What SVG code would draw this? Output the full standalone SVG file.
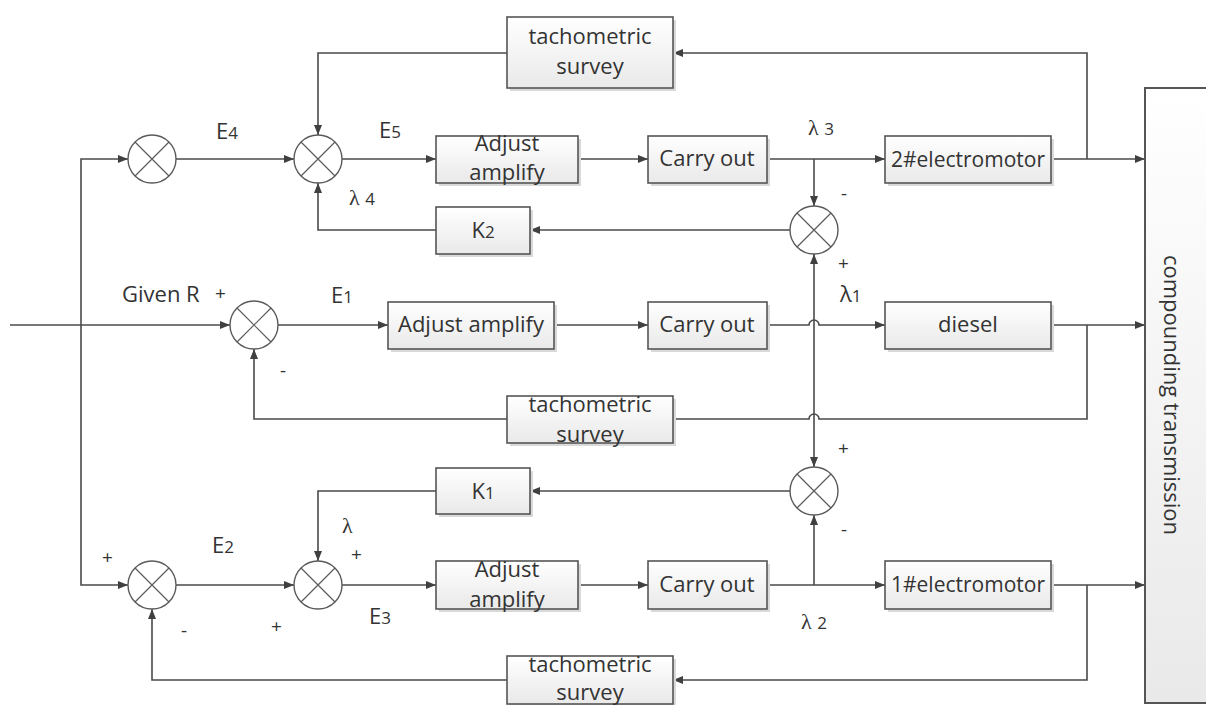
<svg xmlns="http://www.w3.org/2000/svg" width="1206" height="705" viewBox="0 0 1206 705">
<style>
.ln{fill:none;stroke:#4a4a4a;stroke-width:1.6}
.bx{fill:url(#g);stroke:#555;stroke-width:1.6}
.sh{fill:#d9d9d9}
.sm{fill:#fff;stroke:#5a5a5a;stroke-width:1.4}
.sx{stroke:#5a5a5a;stroke-width:1.2}
.t{font-family:"Open Sans","Liberation Sans",sans-serif;font-size:22px;fill:#333;text-anchor:middle}
.l{font-family:"Open Sans","Liberation Sans",sans-serif;font-size:22px;fill:#333}
.p{font-family:"Open Sans","Liberation Sans",sans-serif;font-size:19px;fill:#333}
.g{font-family:"Liberation Serif",serif;font-size:22px;fill:#333}
.s{font-size:17px}
</style>
<defs>
<linearGradient id="g" x1="0" y1="0" x2="0" y2="1"><stop offset="0" stop-color="#ffffff"/><stop offset="1" stop-color="#e9e9e9"/></linearGradient>
<marker id="a" viewBox="0 0 10 10" refX="10" refY="5" markerWidth="10" markerHeight="10" markerUnits="userSpaceOnUse" orient="auto-start-reverse"><path d="M0,1 L10,5 L0,9 Z" fill="#404040"/></marker>
<g id="x"><circle r="24" class="sm"/><path class="sx" d="M-17,-17 L17,17 M17,-17 L-17,17"/></g>
</defs>
<rect width="1206" height="705" fill="#fff"/>

<g id="connectors">
<path class="ln" marker-end="url(#a)" d="M10,325 H230"/>
<path class="ln" marker-end="url(#a)" d="M81,325 V159 H128"/>
<path class="ln" marker-end="url(#a)" d="M81,325 V585 H128"/>
<path class="ln" marker-end="url(#a)" d="M176,159 H294"/>
<path class="ln" marker-end="url(#a)" d="M342,159 H436"/>
<path class="ln" marker-end="url(#a)" d="M578,159 H648"/>
<path class="ln" marker-end="url(#a)" d="M767,159 H885"/>
<path class="ln" marker-end="url(#a)" d="M814,159 V206"/>
<path class="ln" marker-end="url(#a)" d="M1051,159 H1145"/>
<path class="ln" marker-end="url(#a)" d="M1087,159 V53 H673"/>
<path class="ln" marker-end="url(#a)" d="M507,53 H318 V135"/>
<path class="ln" marker-end="url(#a)" d="M790,230 H530"/>
<path class="ln" marker-end="url(#a)" d="M436,230 H318 V183"/>
<path class="ln" marker-start="url(#a)" marker-end="url(#a)" d="M814,254 V467"/>
<path class="ln" marker-end="url(#a)" d="M278,325 H388"/>
<path class="ln" marker-end="url(#a)" d="M554,325 H648"/>
<path class="ln" marker-end="url(#a)" d="M767,325 H809 A5,5 0 0 1 819,325 H885"/>
<path class="ln" marker-end="url(#a)" d="M1051,325 H1145"/>
<path class="ln" d="M1087,325 V419 H819 A5,5 0 0 0 809,419 H673"/>
<path class="ln" marker-end="url(#a)" d="M507,419 H254 V349"/>
<path class="ln" marker-end="url(#a)" d="M790,491 H530"/>
<path class="ln" marker-end="url(#a)" d="M436,491 H318 V561"/>
<path class="ln" marker-end="url(#a)" d="M176,585 H294"/>
<path class="ln" marker-end="url(#a)" d="M342,585 H436"/>
<path class="ln" marker-end="url(#a)" d="M578,585 H648"/>
<path class="ln" marker-end="url(#a)" d="M767,585 H885"/>
<path class="ln" marker-end="url(#a)" d="M814,585 V515"/>
<path class="ln" marker-end="url(#a)" d="M1051,585 H1145"/>
<path class="ln" marker-end="url(#a)" d="M1087,585 V680 H673"/>
<path class="ln" marker-end="url(#a)" d="M507,680 H152 V609"/>
</g>

<g id="sum1"><use href="#x" x="152" y="159"/></g>
<g id="sum2"><use href="#x" x="318" y="159"/></g>
<g id="sum3"><use href="#x" x="814" y="230"/></g>
<g id="sum0"><use href="#x" x="254" y="325"/></g>
<g id="sum4"><use href="#x" x="814" y="491"/></g>
<g id="sum5"><use href="#x" x="152" y="585"/></g>
<g id="sum6"><use href="#x" x="318" y="585"/></g>

<g id="tach-top"><rect class="sh" x="510" y="20" width="166" height="71"/><rect class="bx" x="507" y="17" width="166" height="71"/><text class="t" x="590" y="44">tachometric</text><text class="t" x="590" y="74">survey</text></g>
<g id="adj-top"><rect class="sh" x="439" y="139" width="142" height="47"/><rect class="bx" x="436" y="136" width="142" height="47"/><text class="t" x="507" y="151">Adjust</text><text class="t" x="507" y="180">amplify</text></g>
<g id="carry-top"><rect class="sh" x="651" y="139" width="119" height="47"/><rect class="bx" x="648" y="136" width="119" height="47"/><text class="t" x="707" y="166">Carry out</text></g>
<g id="motor2"><rect class="sh" x="888" y="139" width="166" height="47"/><rect class="bx" x="885" y="136" width="166" height="47"/><text class="t" x="968" y="167" style="font-size:21px">2#electromotor</text></g>
<g id="k2"><rect class="sh" x="439" y="210" width="94" height="47"/><rect class="bx" x="436" y="207" width="94" height="47"/><text class="t" x="483" y="238">K<tspan class="s">2</tspan></text></g>

<g id="adj-mid"><rect class="sh" x="391" y="305" width="166" height="47"/><rect class="bx" x="388" y="302" width="166" height="47"/><text class="t" x="471" y="332">Adjust amplify</text></g>
<g id="carry-mid"><rect class="sh" x="651" y="305" width="119" height="47"/><rect class="bx" x="648" y="302" width="119" height="47"/><text class="t" x="707" y="332">Carry out</text></g>
<g id="diesel"><rect class="sh" x="888" y="305" width="166" height="47"/><rect class="bx" x="885" y="302" width="166" height="47"/><text class="t" x="968" y="332">diesel</text></g>
<g id="tach-mid"><rect class="sh" x="510" y="399" width="166" height="47"/><rect class="bx" x="507" y="396" width="166" height="47"/><text class="t" x="590" y="412">tachometric</text><text class="t" x="590" y="442">survey</text></g>

<g id="k1"><rect class="sh" x="439" y="471" width="94" height="46"/><rect class="bx" x="436" y="468" width="94" height="46"/><text class="t" x="483" y="499">K<tspan class="s">1</tspan></text></g>
<g id="adj-bot"><rect class="sh" x="439" y="564" width="142" height="48"/><rect class="bx" x="436" y="561" width="142" height="48"/><text class="t" x="507" y="577">Adjust</text><text class="t" x="507" y="607">amplify</text></g>
<g id="carry-bot"><rect class="sh" x="651" y="564" width="119" height="48"/><rect class="bx" x="648" y="561" width="119" height="48"/><text class="t" x="707" y="592">Carry out</text></g>
<g id="motor1"><rect class="sh" x="888" y="564" width="166" height="48"/><rect class="bx" x="885" y="561" width="166" height="48"/><text class="t" x="968" y="592" style="font-size:21px">1#electromotor</text></g>
<g id="tach-bot"><rect class="sh" x="510" y="659" width="166" height="48"/><rect class="bx" x="507" y="656" width="166" height="48"/><text class="t" x="590" y="672">tachometric</text><text class="t" x="590" y="700">survey</text></g>

<g id="compounding"><rect x="1145" y="88" width="80" height="615" fill="url(#g)" stroke="#555" stroke-width="2"/><text class="t" transform="translate(1164,395) rotate(90)">compounding transmission</text></g>

<g id="labels">
<text class="l" x="216" y="139">E<tspan class="s">4</tspan></text>
<text class="l" x="379" y="138">E<tspan class="s">5</tspan></text>
<text class="g" x="349" y="205">λ <tspan class="l s">4</tspan></text>
<text class="g" x="808" y="135">λ <tspan class="l s">3</tspan></text>
<text class="p" x="841" y="200">-</text>
<text class="p" x="838" y="270">+</text>
<text class="l" x="840" y="302">λ<tspan class="s">1</tspan></text>
<text class="l" x="122" y="302">Given R</text>
<text class="p" x="215" y="300">+</text>
<text class="l" x="331" y="303">E<tspan class="s">1</tspan></text>
<text class="p" x="280" y="377">-</text>
<text class="p" x="838" y="455">+</text>
<text class="p" x="841" y="536">-</text>
<text class="g" x="801" y="629">λ <tspan class="l s">2</tspan></text>
<text class="p" x="102" y="564">+</text>
<text class="l" x="212" y="553">E<tspan class="s">2</tspan></text>
<text class="g" x="342" y="533">λ</text>
<text class="p" x="351" y="561">+</text>
<text class="p" x="271" y="633">+</text>
<text class="p" x="181" y="637">-</text>
<text class="l" x="369" y="624">E<tspan class="s">3</tspan></text>
</g>
</svg>
